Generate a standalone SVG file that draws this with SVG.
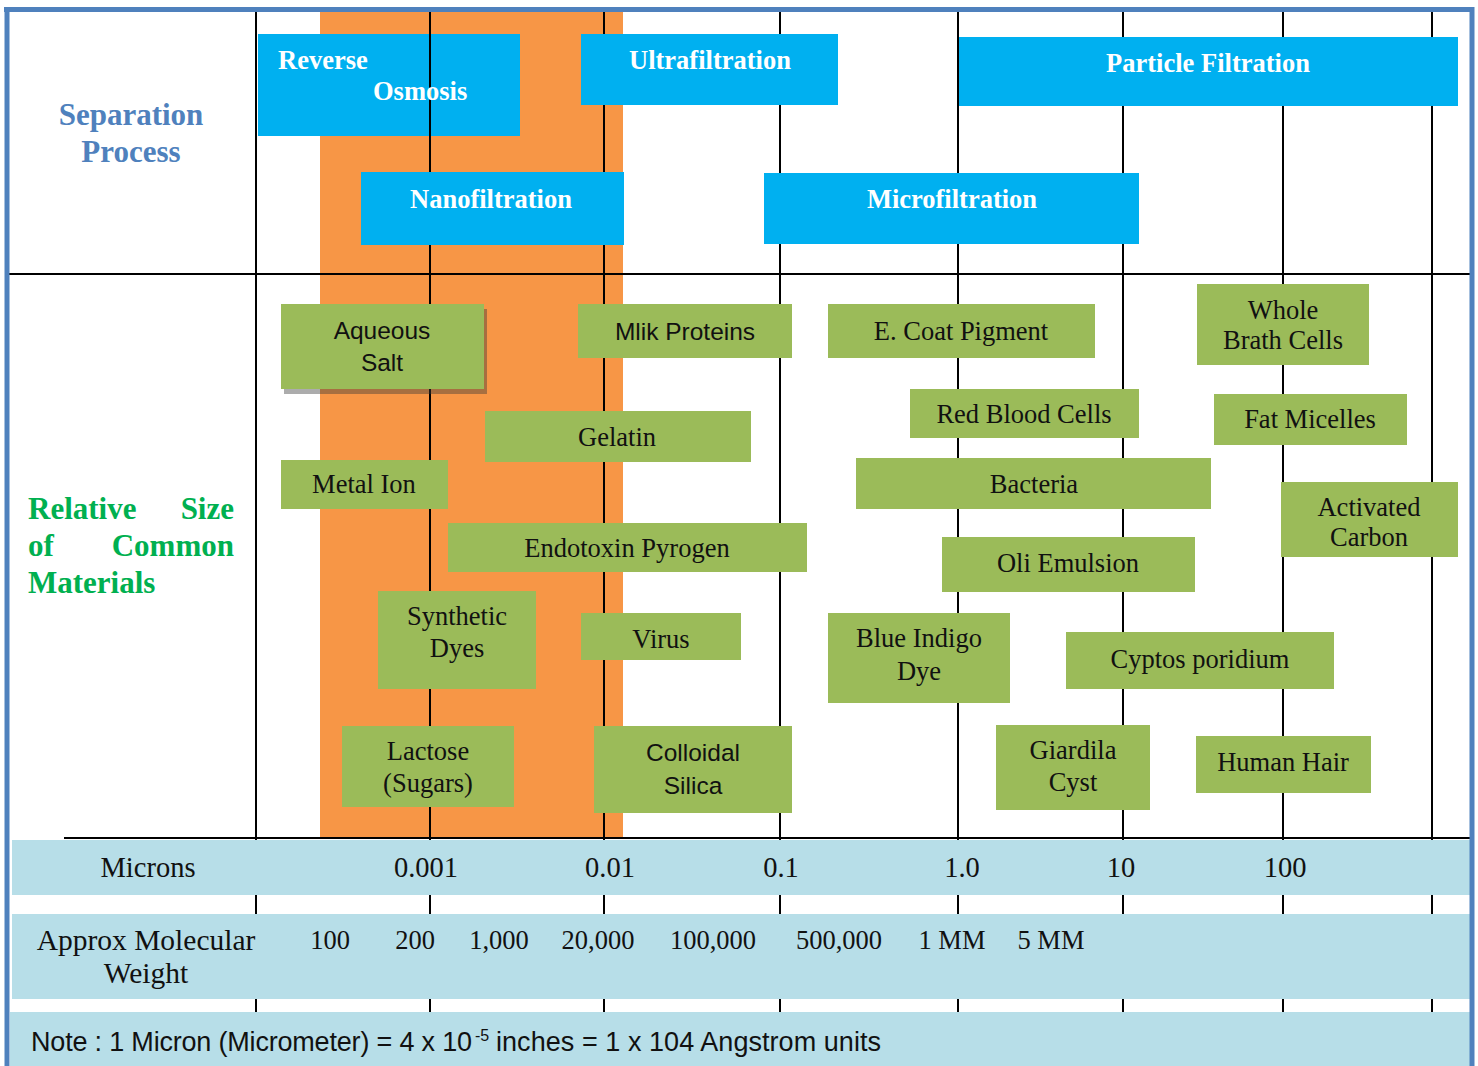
<svg xmlns="http://www.w3.org/2000/svg" width="1478" height="1066" viewBox="0 0 1478 1066">
<style>
.grid{stroke:#000;stroke-width:2;fill:none}
.proc{fill:#00b0f0}
.mat{fill:#9bbb59}
.band{fill:#b7dee8}
.pt{font-family:"Liberation Serif",serif;font-weight:bold;font-size:26.5px;fill:#fff}
.mt{font-family:"Liberation Serif",serif;font-size:26.5px;fill:#111;text-anchor:middle}
.ms{font-family:"Liberation Sans",sans-serif;font-size:24.5px;fill:#111;text-anchor:middle}
.ax{font-family:"Liberation Serif",serif;font-size:28.5px;fill:#111;text-anchor:middle}
.mw{font-family:"Liberation Serif",serif;font-size:26.5px;fill:#111;text-anchor:middle}
.hd1{font-family:"Liberation Serif",serif;font-weight:bold;font-size:31px;fill:#4f81bd;text-anchor:middle}
.hd2{font-family:"Liberation Serif",serif;font-weight:bold;font-size:31px;fill:#00b050}
.note{font-family:"Liberation Sans",sans-serif;font-size:27px;fill:#111}
</style>
<rect x="0" y="0" width="1478" height="1066" fill="#fff"/>
<rect x="320" y="10" width="303" height="828" fill="#f79646"/>
<g id="gridlines">
<line class="grid" x1="256" y1="10" x2="256" y2="1066"/>
<line class="grid" x1="430" y1="10" x2="430" y2="1066"/>
<line class="grid" x1="604" y1="10" x2="604" y2="1066"/>
<line class="grid" x1="780" y1="10" x2="780" y2="1066"/>
<line class="grid" x1="958" y1="10" x2="958" y2="1066"/>
<line class="grid" x1="1123" y1="10" x2="1123" y2="1066"/>
<line class="grid" x1="1283" y1="10" x2="1283" y2="1066"/>
<line class="grid" x1="1432" y1="10" x2="1432" y2="1066"/>
<line class="grid" x1="8" y1="274" x2="1470" y2="274"/>
<line class="grid" x1="64" y1="838" x2="1470" y2="838"/>
</g>
<g id="bands">
<rect class="band" x="12" y="840" width="1459" height="55"/>
<rect class="band" x="12" y="914" width="1459" height="85"/>
<rect class="band" x="10" y="1012" width="1461" height="54"/>
</g>
<g id="labels">
<text class="hd1" x="131" y="125">Separation</text>
<text class="hd1" x="131" y="162">Process</text>
<text class="hd2" x="28" y="519">Relative</text>
<text class="hd2" x="234" y="519" text-anchor="end">Size</text>
<text class="hd2" x="28" y="556">of</text>
<text class="hd2" x="234" y="556" text-anchor="end">Common</text>
<text class="hd2" x="28" y="593">Materials</text>
</g>
<g id="reverse-osmosis">
<rect class="proc" x="258" y="34" width="262" height="102"/>
<line class="grid" x1="430" y1="34" x2="430" y2="136"/>
<text class="pt" x="278" y="69">Reverse</text>
<text class="pt" x="373" y="100">Osmosis</text>
</g>
<g id="ultrafiltration">
<rect class="proc" x="581" y="34" width="257" height="71"/>
<text class="pt" x="629" y="69">Ultrafiltration</text>
</g>
<g id="particle-filtration">
<rect class="proc" x="959" y="37" width="499" height="69"/>
<text class="pt" x="1208" y="72" text-anchor="middle">Particle Filtration</text>
</g>
<g id="nanofiltration">
<rect class="proc" x="361" y="172" width="263" height="73"/>
<text class="pt" x="491" y="208" text-anchor="middle">Nanofiltration</text>
</g>
<g id="microfiltration">
<rect class="proc" x="764" y="173" width="375" height="71"/>
<text class="pt" x="952" y="208" text-anchor="middle">Microfiltration</text>
</g>
<g id="aqueous-salt">
<rect x="284" y="309" width="203" height="85" fill="#3a3a3a" opacity="0.42"/>
<rect class="mat" x="281" y="304" width="203" height="85"/>
<text class="ms" x="382" y="339">Aqueous</text>
<text class="ms" x="382" y="371">Salt</text>
</g>
<g id="milk-proteins">
<rect class="mat" x="578" y="304" width="214" height="54"/>
<text class="ms" x="685" y="340">Mlik Proteins</text>
</g>
<g id="e-coat-pigment">
<rect class="mat" x="828" y="304" width="267" height="54"/>
<text class="mt" x="961" y="340">E. Coat Pigment</text>
</g>
<g id="whole-brath-cells">
<rect class="mat" x="1197" y="284" width="172" height="81"/>
<text class="mt" x="1283" y="319">Whole</text>
<text class="mt" x="1283" y="349">Brath Cells</text>
</g>
<g id="gelatin">
<rect class="mat" x="485" y="411" width="266" height="51"/>
<text class="mt" x="617" y="446">Gelatin</text>
</g>
<g id="red-blood-cells">
<rect class="mat" x="910" y="389" width="229" height="49"/>
<text class="mt" x="1024" y="423">Red Blood Cells</text>
</g>
<g id="fat-micelles">
<rect class="mat" x="1214" y="394" width="193" height="51"/>
<text class="mt" x="1310" y="428">Fat Micelles</text>
</g>
<g id="metal-ion">
<rect class="mat" x="281" y="460" width="167" height="49"/>
<text class="mt" x="364" y="493">Metal Ion</text>
</g>
<g id="bacteria">
<rect class="mat" x="856" y="458" width="355" height="51"/>
<text class="mt" x="1034" y="493">Bacteria</text>
</g>
<g id="activated-carbon">
<rect class="mat" x="1281" y="482" width="177" height="75"/>
<text class="mt" x="1369" y="516">Activated</text>
<text class="mt" x="1369" y="546">Carbon</text>
</g>
<g id="endotoxin-pyrogen">
<rect class="mat" x="448" y="523" width="359" height="49"/>
<text class="mt" x="627" y="557">Endotoxin Pyrogen</text>
</g>
<g id="oli-emulsion">
<rect class="mat" x="942" y="537" width="253" height="55"/>
<text class="mt" x="1068" y="572">Oli Emulsion</text>
</g>
<g id="synthetic-dyes">
<rect class="mat" x="378" y="591" width="158" height="98"/>
<text class="mt" x="457" y="625">Synthetic</text>
<text class="mt" x="457" y="657">Dyes</text>
</g>
<g id="virus">
<rect class="mat" x="581" y="613" width="160" height="47"/>
<text class="mt" x="661" y="648">Virus</text>
</g>
<g id="blue-indigo-dye">
<rect class="mat" x="828" y="613" width="182" height="90"/>
<text class="mt" x="919" y="647">Blue Indigo</text>
<text class="mt" x="919" y="680">Dye</text>
</g>
<g id="cyptos-poridium">
<rect class="mat" x="1066" y="632" width="268" height="57"/>
<text class="mt" x="1200" y="668">Cyptos poridium</text>
</g>
<g id="lactose">
<rect class="mat" x="342" y="726" width="172" height="81"/>
<text class="mt" x="428" y="760">Lactose</text>
<text class="mt" x="428" y="792">(Sugars)</text>
</g>
<g id="colloidal-silica">
<rect class="mat" x="594" y="726" width="198" height="87"/>
<text class="ms" x="693" y="761">Colloidal</text>
<text class="ms" x="693" y="794">Silica</text>
</g>
<g id="giardila-cyst">
<rect class="mat" x="996" y="725" width="154" height="85"/>
<text class="mt" x="1073" y="759">Giardila</text>
<text class="mt" x="1073" y="791">Cyst</text>
</g>
<g id="human-hair">
<rect class="mat" x="1196" y="736" width="175" height="57"/>
<text class="mt" x="1283" y="771">Human Hair</text>
</g>
<g id="axis">
<text class="ax" x="148" y="877">Microns</text>
<text class="ax" x="426" y="877">0.001</text>
<text class="ax" x="610" y="877">0.01</text>
<text class="ax" x="781" y="877">0.1</text>
<text class="ax" x="962" y="877">1.0</text>
<text class="ax" x="1121" y="877">10</text>
<text class="ax" x="1285" y="877">100</text>
<text class="ax" x="146" y="950" style="font-size:29.5px">Approx Molecular</text>
<text class="ax" x="146" y="983" style="font-size:29.5px">Weight</text>
<text class="mw" x="330" y="949">100</text>
<text class="mw" x="415" y="949">200</text>
<text class="mw" x="499" y="949">1,000</text>
<text class="mw" x="598" y="949">20,000</text>
<text class="mw" x="713" y="949">100,000</text>
<text class="mw" x="839" y="949">500,000</text>
<text class="mw" x="952" y="949">1 MM</text>
<text class="mw" x="1051" y="949">5 MM</text>
</g>
<g id="note">
<text class="note" x="31" y="1051" textLength="441">Note : 1 Micron (Micrometer) = 4 x 10</text>
<text class="note" x="475" y="1041" style="font-size:16px">-5</text>
<text class="note" x="496" y="1051" textLength="385">inches = 1 x 104 Angstrom units</text>
</g>
<g id="border" fill="none" stroke="#4f81bd">
<line x1="4" y1="9.5" x2="1474" y2="9.5" stroke-width="5"/>
<line x1="7" y1="7" x2="7" y2="1066" stroke-width="5"/>
<line x1="1472" y1="7" x2="1472" y2="1066" stroke-width="5"/>
</g>
</svg>
